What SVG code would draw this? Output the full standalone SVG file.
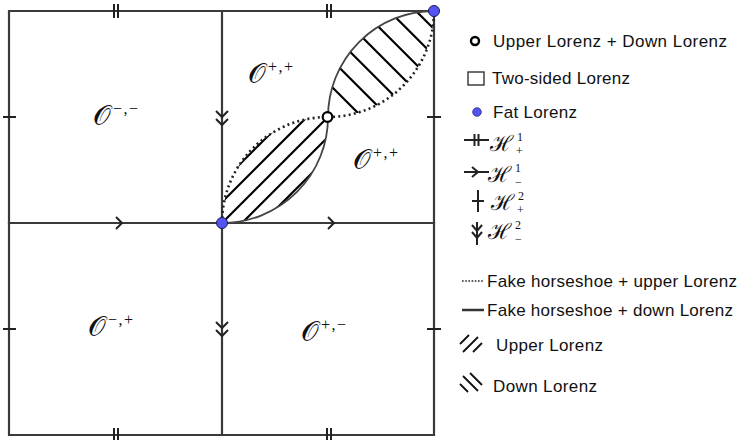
<svg xmlns="http://www.w3.org/2000/svg" width="740" height="440" viewBox="0 0 740 440">
<style>
.edge{stroke:#3a3a3a;stroke-width:2.2;fill:none;stroke-linecap:square}
.tick{stroke:#222;stroke-width:2;fill:none}
.hatch{stroke:#000;stroke-width:2.2;fill:none}
.solid{stroke:#444;stroke-width:1.8;fill:none}
.dotted{stroke:#222;stroke-width:2.6;fill:none;stroke-dasharray:2 3.2}
.fat{fill:#5454f2;stroke:#1a1a5a;stroke-width:1}
.open{fill:#fff;stroke:#000;stroke-width:2.2}
.lab{font-family:"DejaVu Serif","Liberation Serif",serif;font-size:28px;fill:#111}
.sup{font-family:"Liberation Serif",serif;font-size:16px;fill:#111}
.leg{font-family:"Liberation Sans",Arial,sans-serif;font-size:17px;fill:#111}
.hl{font-family:"DejaVu Serif","Liberation Serif",serif;font-size:22px;fill:#111}
.hs{font-family:"Liberation Serif",serif;font-size:12px;fill:#111}
</style>
<defs>
<clipPath id="lowLens"><path d="M222,223 A106,106 0 0 1 328,117 A106,106 0 0 1 222,223 Z"/></clipPath>
<clipPath id="upLens"><path d="M328,117 A106,106 0 0 1 434,11 A106,106 0 0 1 328,117 Z"/></clipPath>
</defs>
<rect width="740" height="440" fill="#fff"/>
<g id="connectors">
<g id="grid">
<path class="edge" d="M9,11 H434 V435 H9 Z"/>
<path class="edge" d="M222,11 V435 M9,223 H434"/>
</g>
<g id="ticks">
<path class="tick" d="M114,4 V18 M118,4 V18 M327,4 V18 M331,4 V18"/>
<path class="tick" d="M114,428 V442 M118,428 V442 M327,428 V442 M331,428 V442"/>
<path class="tick" d="M3,117 H16 M3,329 H16 M427,117 H441 M427,329 H441"/>
<path class="tick" d="M116,217 L122,223 L116,229 M328,217 L334,223 L328,229"/>
<path class="tick" d="M216,111 L222,117 L228,111 M216,119 L222,125 L228,119"/>
<path class="tick" d="M216,322 L222,328 L228,322 M216,330 L222,336 L228,330"/>
</g>
<g id="lower-lens">
<g clip-path="url(#lowLens)">
<path class="hatch" d="M200,204 L350,54 M200,224 L350,74 M200,245 L350,95 M200,265 L350,115 M200,285 L350,135"/>
</g>
<path class="dotted" d="M222,223 A106,106 0 0 1 328,117"/>
<path class="solid" d="M222,223 A106,106 0 0 0 328,117"/>
</g>
<g id="upper-lens">
<g clip-path="url(#upLens)">
<path class="hatch" d="M300,55 L450,205 M300,28.3 L450,178.3 M300,1.7 L450,151.7 M300,-25 L450,125 M300,-51.7 L450,98.3 M300,-78.3 L450,71.7 M300,-105 L450,45"/>
</g>
<path class="solid" d="M328,117 A106,106 0 0 1 434,11"/>
<path class="dotted" d="M328,117 A106,106 0 0 0 434,11"/>
</g>
</g>
<g id="node-fat-origin"><circle class="fat" cx="222" cy="223" r="5.5"/></g>
<g id="node-fat-corner"><circle class="fat" cx="434" cy="11" r="5.5"/></g>
<g id="node-open-mid"><circle class="open" cx="327.5" cy="117" r="4.8"/></g>
<g id="label-mm"><text class="lab" x="93" y="125">𝒪</text><text class="sup" x="113" y="114" letter-spacing="1.5">−,−</text></g>
<g id="label-pp-top"><text class="lab" x="248" y="83">𝒪</text><text class="sup" x="268" y="72" letter-spacing="1.5">+,+</text></g>
<g id="label-pp-right"><text class="lab" x="353" y="169">𝒪</text><text class="sup" x="373" y="158" letter-spacing="1.5">+,+</text></g>
<g id="label-mp"><text class="lab" x="88" y="336">𝒪</text><text class="sup" x="108" y="325" letter-spacing="1.5">−,+</text></g>
<g id="label-pm"><text class="lab" x="301" y="341">𝒪</text><text class="sup" x="321" y="330" letter-spacing="1.5">+,−</text></g>
<g id="legend">
<g id="leg-open"><circle cx="475" cy="41" r="4" fill="#fff" stroke="#000" stroke-width="2.4"/><text class="leg" x="493" y="47" textLength="234" lengthAdjust="spacing">Upper Lorenz + Down Lorenz</text></g>
<g id="leg-square"><rect x="468" y="72" width="16" height="13" fill="#fff" stroke="#333" stroke-width="1.4"/><text class="leg" x="492" y="84" textLength="138" lengthAdjust="spacing">Two-sided Lorenz</text></g>
<g id="leg-fat"><circle cx="477" cy="112" r="4.3" fill="#5454f2" stroke="#2a2a80" stroke-width="0.8"/><text class="leg" x="493" y="118" textLength="84" lengthAdjust="spacing">Fat Lorenz</text></g>
<g id="leg-h1p"><path class="tick" d="M464,140 H489 M474.5,134 V146 M478.5,134 V146"/><text class="hl" x="490" y="151">ℋ</text><text class="hs" x="517" y="141">1</text><text class="hs" x="516" y="155">+</text></g>
<g id="leg-h1m"><path class="tick" d="M464,172 H489 M472,167 L478,172 L472,177"/><text class="hl" x="488" y="182">ℋ</text><text class="hs" x="515" y="172">1</text><text class="hs" x="515" y="186">−</text></g>
<g id="leg-h2p"><path class="tick" d="M478,190 V212 M472,201 H484"/><text class="hl" x="491" y="210">ℋ</text><text class="hs" x="518" y="200">2</text><text class="hs" x="517" y="214">+</text></g>
<g id="leg-h2m"><path class="tick" d="M477,222 V245 M472,225 L477,231 L482,225 M472,232 L477,238 L482,232"/><text class="hl" x="488" y="239">ℋ</text><text class="hs" x="515" y="229">2</text><text class="hs" x="515" y="243">−</text></g>
<g id="leg-dotted"><path d="M462,281 H484" stroke="#222" stroke-width="1.6" stroke-dasharray="1.6 1.6"/><text class="leg" x="487" y="287" textLength="250" lengthAdjust="spacing">Fake horseshoe + upper Lorenz</text></g>
<g id="leg-solid"><path d="M462,310 H484" stroke="#333" stroke-width="2.5"/><text class="leg" x="487" y="316" textLength="246" lengthAdjust="spacing">Fake horseshoe + down Lorenz</text></g>
<g id="leg-up"><path d="M460,344 L469,335 M463,352 L478,337 M473,352 L482,343" stroke="#111" stroke-width="1.8"/><text class="leg" x="496" y="351" textLength="107" lengthAdjust="spacing">Upper Lorenz</text></g>
<g id="leg-down"><path d="M470,373 L482,385 M463,376 L478,391 M460,384 L468,392" stroke="#111" stroke-width="1.8"/><text class="leg" x="493" y="392" textLength="104" lengthAdjust="spacing">Down Lorenz</text></g>
</g>
</svg>
